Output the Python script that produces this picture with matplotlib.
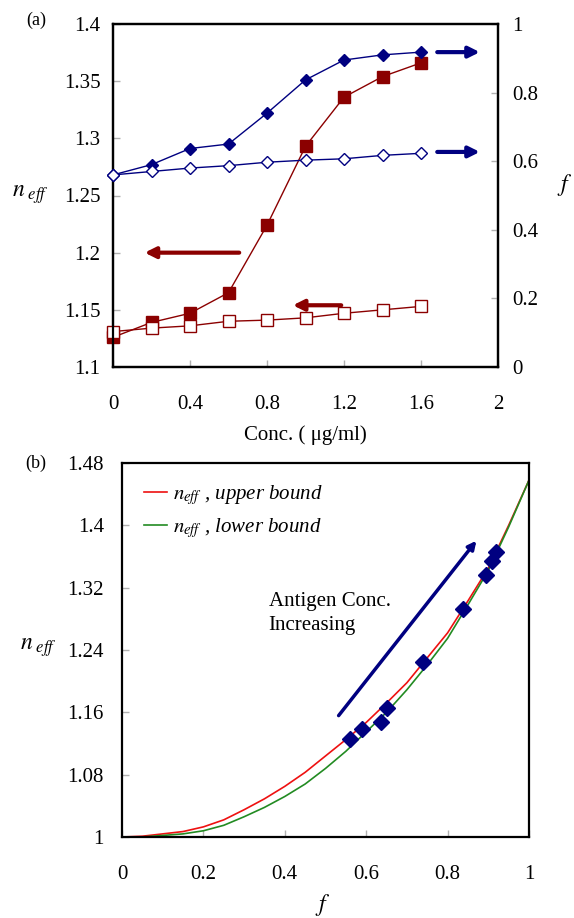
import matplotlib
matplotlib.use("Agg")
import matplotlib.pyplot as plt

plt.rcParams['font.family'] = ['Liberation Serif', 'DejaVu Serif']
plt.rcParams['mathtext.fontset'] = 'stix'

# panel (a) data
conc = [0, 0.2, 0.4, 0.6, 0.8, 1.0, 1.2, 1.4, 1.6]
neff_filled = [1.126, 1.139, 1.147, 1.165, 1.224, 1.293, 1.336, 1.354, 1.366]
neff_open = [1.131, 1.134, 1.136, 1.140, 1.141, 1.143, 1.147, 1.150, 1.153]
f_filled = [0.56, 0.59, 0.637, 0.65, 0.74, 0.837, 0.895, 0.91, 0.918]
f_open = [0.56, 0.57, 0.58, 0.587, 0.597, 0.603, 0.607, 0.617, 0.623]

# panel (b) bound curves
f_curve = [0, 0.05, 0.1, 0.15, 0.2, 0.25, 0.3, 0.35, 0.4, 0.45, 0.5,
           0.55, 0.6, 0.65, 0.7, 0.75, 0.8, 0.85, 0.9, 0.95, 1.0]
n_upper = [1.000, 1.001, 1.004, 1.007, 1.013, 1.022, 1.035, 1.049, 1.065, 1.083, 1.104,
           1.125, 1.147, 1.172, 1.198, 1.230, 1.262, 1.303, 1.345, 1.400, 1.458]
n_lower = [1.000, 1.000, 1.002, 1.004, 1.008, 1.015, 1.026, 1.038, 1.052, 1.068, 1.088,
           1.110, 1.135, 1.160, 1.189, 1.221, 1.255, 1.298, 1.342, 1.398, 1.458]

maroon = '#8b0000'
navy = '#000080'
W, H = 574, 918

fig = plt.figure(figsize=(W / 100, H / 100), dpi=100)


def style(ax, xpad, ypad):
    for s in ax.spines.values():
        s.set_linewidth(1.6)
    ax.tick_params(direction='in', length=5, width=1, color='#b0b0b0', labelsize=15)
    ax.tick_params(axis='x', pad=xpad)
    ax.tick_params(axis='y', pad=ypad)


# ---- panel (a)
ax1 = fig.add_axes([113 / W, 1 - 367 / H, 385 / W, 343 / H])
ax1.plot(conc, neff_filled, color=maroon, lw=1, marker='s', ms=8.5, mfc=maroon, mec=maroon,
         zorder=3, clip_on=False)
ax1.plot(conc, neff_open, color=maroon, lw=1, marker='s', ms=8.5, mfc='white', mec=maroon, mew=1,
         zorder=3, clip_on=False)
ax1.set_xlim(0, 2)
ax1.set_ylim(1.1, 1.4)
ax1.set_xticks([0, 0.4, 0.8, 1.2, 1.6, 2])
ax1.set_xticklabels(['0', '0.4', '0.8', '1.2', '1.6', '2'])
ax1.set_yticks([1.1, 1.15, 1.2, 1.25, 1.3, 1.35, 1.4])
ax1.set_yticklabels(['1.1', '1.15', '1.2', '1.25', '1.3', '1.35', '1.4'])
style(ax1, 20, 9)
ax1.set_xlabel('Conc. ( \u03bcg/ml)', fontsize=15, labelpad=8)

ax1.annotate('', xy=(0.15, 1.2), xytext=(0.67, 1.2),
             arrowprops=dict(arrowstyle='-|>', color=maroon, lw=3, mutation_scale=16))
ax1.annotate('', xy=(0.92, 1.154), xytext=(1.2, 1.154),
             arrowprops=dict(arrowstyle='-|>', color=maroon, lw=3, mutation_scale=16))

ax2 = ax1.twinx()
ax2.plot(conc, f_filled, color=navy, lw=1, marker='D', ms=6.5, mfc=navy, mec=navy,
         zorder=3, clip_on=False)
ax2.plot(conc, f_open, color=navy, lw=1, marker='D', ms=6, mfc='white', mec=navy, mew=1,
         zorder=3, clip_on=False)
ax2.set_ylim(0, 1)
ax2.set_yticks([0, 0.2, 0.4, 0.6, 0.8, 1])
ax2.set_yticklabels(['0', '0.2', '0.4', '0.6', '0.8', '1'])
style(ax2, 20, 10)
ax2.annotate('', xy=(1.92, 0.918), xytext=(1.67, 0.918),
             arrowprops=dict(arrowstyle='-|>', color=navy, lw=3, mutation_scale=16))
ax2.annotate('', xy=(1.92, 0.627), xytext=(1.67, 0.627),
             arrowprops=dict(arrowstyle='-|>', color=navy, lw=3, mutation_scale=16))

fig.text(36 / W, 1 - 20 / H, '(a)', fontsize=13, ha='center', va='center')
fig.text(30 / W, 1 - 195 / H, r'$n_{\ eff}$', fontsize=17, ha='center', va='center')
fig.text(565 / W, 1 - 185 / H, r'$f$', fontsize=17, ha='center', va='center')

# ---- panel (b)
ax3 = fig.add_axes([122 / W, 1 - 837 / H, 407 / W, 374 / H])
ax3.plot(f_curve, n_upper, color='#ee1111', lw=1.2, label=r'$n_{eff}$ , upper bound')
ax3.plot(f_curve, n_lower, color='#228b22', lw=1.2, label=r'$n_{eff}$ , lower bound')
ax3.plot(f_filled, neff_filled, ls='none', marker='D', ms=8, mfc=navy, mec=navy, zorder=4)
ax3.set_xlim(0, 1)
ax3.set_ylim(1, 1.48)
ax3.set_xticks([0, 0.2, 0.4, 0.6, 0.8, 1])
ax3.set_xticklabels(['0', '0.2', '0.4', '0.6', '0.8', '1'])
ax3.set_yticks([1, 1.08, 1.16, 1.24, 1.32, 1.4, 1.48])
ax3.set_yticklabels(['1', '1.08', '1.16', '1.24', '1.32', '1.4', '1.48'])
style(ax3, 20, 13)
ax3.annotate('', xy=(0.875, 1.383), xytext=(0.528, 1.153),
             arrowprops=dict(arrowstyle='-|>', color=navy, lw=2.5, mutation_scale=12))
ax3.text(0.36, 1.315, 'Antigen Conc.\nIncreasing', fontsize=15, ha='left', va='top',
         linespacing=1.4)
leg = ax3.legend(loc='upper left', bbox_to_anchor=(0.018, 0.985), frameon=False,
                 handlelength=1.1, handletextpad=0.3, borderaxespad=0.3, labelspacing=0.45,
                 prop={'style': 'italic', 'size': 15})

fig.text(36 / W, 1 - 463 / H, '(b)', fontsize=13, ha='center', va='center')
fig.text(38 / W, 1 - 648 / H, r'$n_{\ eff}$', fontsize=17, ha='center', va='center')
fig.text(323 / W, 1 - 905 / H, r'$f$', fontsize=17, ha='center', va='center')

fig.savefig('out.png', dpi=100)
